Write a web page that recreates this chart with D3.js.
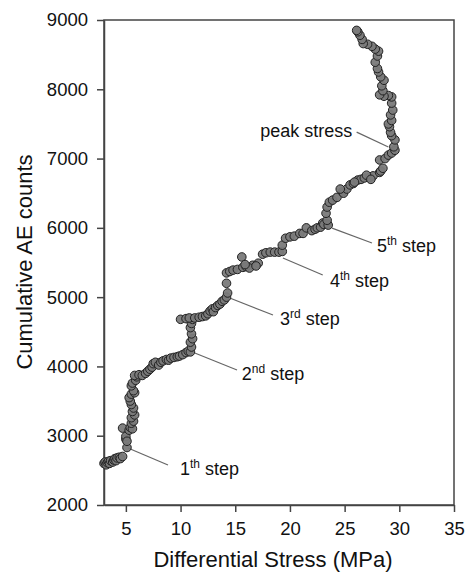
<!DOCTYPE html>
<html><head><meta charset="utf-8">
<script src="https://cdn.jsdelivr.net/npm/d3@7"></script>
<style>body{margin:0;background:#fff}svg{display:block}</style>
</head><body>
<script>
// Differential stress (MPa)
const stress = [
3.0,3.1,3.2,3.3,3.4,3.5,3.6,3.8,3.9,4.0,4.1,4.2,4.4,4.5,4.7,
5.1,4.7,5.0,5.0,5.1,5.3,5.4,5.6,5.5,5.7,5.5,5.8,5.6,5.7,5.5,5.4,5.3,5.5,5.8,5.7,5.5,5.6,5.9,6.0,5.8,6.2,6.5,
6.8,7.0,7.2,7.4,7.5,7.7,8.0,8.2,8.4,8.7,8.9,9.1,9.4,9.7,9.9,10.2,10.5,10.7,10.9,
11.0,10.9,11.1,11.0,10.9,11.0,11.1,
10.0,10.5,10.8,11.3,11.7,12.0,12.3,12.5,12.7,12.9,13.0,13.2,13.4,13.6,13.8,14.0,14.2,14.3,14.2,
14.2,14.5,14.8,15.2,15.7,16.0,16.6,16.3,17.1,15.6,17.5,17.8,18.2,18.6,19.0,19.3,15.9,16.9,
19.3,19.6,20.0,20.4,20.9,21.2,21.5,22.0,22.3,22.5,22.8,23.0,23.4,23.1,23.5,
23.4,23.3,23.4,23.6,
23.9,24.3,24.8,24.9,25.2,25.5,25.8,26.2,26.5,26.8,27.3,27.6,28.2,28.3,28.5,27.0,27.4,25.9,24.6,
28.2,28.7,29.0,29.3,29.6,29.5,29.6,29.3,29.2,29.1,29.0,29.3,29.2,29.4,29.3,29.3,29.0,28.6,28.2,
28.5,28.4,28.6,28.3,28.1,28.0,27.8,28.0,28.1,27.8,27.5,27.1,26.7,26.6,26.4,26.2,26.1
];
// Cumulative AE counts
const counts = [
2600,2620,2580,2610,2630,2600,2640,2620,2650,2670,2640,2680,2690,2670,2700,
2830,3110,2950,2990,2920,3080,3120,3100,3180,3210,3260,3300,3350,3400,3450,3500,3550,3600,3620,3650,3720,3760,3800,3850,3870,3880,3870,
3900,3930,3960,3990,4040,4060,4020,4060,4080,4100,4090,4120,4130,4140,4150,4170,4200,4220,4210,
4280,4350,4400,4470,4560,4620,4680,
4680,4690,4700,4700,4710,4720,4730,4760,4800,4830,4790,4850,4880,4900,4940,4960,5000,5060,5200,
5350,5370,5390,5400,5430,5440,5460,5420,5490,5580,5620,5640,5650,5650,5650,5660,5470,5450,
5750,5850,5870,5880,5920,5920,6000,5960,5980,6000,6010,6070,6060,6050,6040,
6110,6210,6300,6370,
6400,6440,6520,6500,6560,6620,6640,6690,6700,6720,6730,6750,6800,6820,6860,6760,6700,6660,6560,
6980,7000,7050,7080,7120,7170,7270,7330,7380,7460,7500,7550,7630,7700,7800,7890,7910,7900,7920,
7980,8050,8130,8180,8250,8300,8390,8480,8550,8580,8620,8650,8660,8720,8780,8830,8850
];
const xTicks = [5,10,15,20,25,30,35];
const yTicks = [2000,3000,4000,5000,6000,7000,8000,9000];
// annotations: label number, superscript, from point, to text
const annLabel = ["1","2","3","4","5","peak stress"];
const annSup   = ["th","nd","rd","th","th",""];
const annFromX = [5.19,11.3,14.5,19.36,23.85,29.0];
const annFromY = [2823,4193,4987,5564,5997,7166];
const annToX   = [8.85,15.16,18.45,23.0,27.5,26.1];
const annToY   = [2577,3948,4742,5319,5781,7382];
const annTextX = [9.95,15.6,19.1,23.66,27.95,25.7];
const annTextY = [2433,3804,4597,5146,5651,7310];

const W=465,H=575;
const m={l:104,r:454,t:20,b:505};
const font="'Liberation Sans', Arial, sans-serif";
const svg=d3.select("body").append("svg").attr("width",W).attr("height",H);
const x=d3.scaleLinear().domain([3,35]).range([m.l,m.r]);
const y=d3.scaleLinear().domain([2000,9000]).range([m.b,m.t]);
const axisCol="#444";

// frame
svg.append("rect").attr("x",m.l).attr("y",m.t).attr("width",m.r-m.l).attr("height",m.b-m.t)
  .attr("fill","none").attr("stroke",axisCol).attr("stroke-width",1.5);

const xa=svg.append("g").attr("transform",`translate(0,${m.b})`)
  .call(d3.axisBottom(x).tickValues(xTicks).tickSize(7).tickPadding(10).tickSizeOuter(0));
const ya=svg.append("g").attr("transform",`translate(${m.l},0)`)
  .call(d3.axisLeft(y).tickValues(yTicks).tickSize(7).tickPadding(9).tickSizeOuter(0).tickFormat(d3.format("d")));
[xa,ya].forEach(a=>{
  a.select(".domain").attr("stroke",axisCol).attr("stroke-width",1.5);
  a.selectAll(".tick line").attr("stroke",axisCol).attr("stroke-width",1.5);
  a.selectAll(".tick text").attr("fill","#111").style("font-family",font).style("font-size","18.5px");
});

// annotation lines
svg.append("g").selectAll("line").data(annLabel).join("line")
  .attr("x1",(d,i)=>x(annFromX[i])).attr("y1",(d,i)=>y(annFromY[i]))
  .attr("x2",(d,i)=>x(annToX[i])).attr("y2",(d,i)=>y(annToY[i]))
  .attr("stroke","#666").attr("stroke-width",1.2);

// points
svg.append("g").selectAll("circle").data(stress).join("circle")
  .attr("cx",d=>x(d)).attr("cy",(d,i)=>y(counts[i])).attr("r",4.3)
  .attr("fill","#7a7a7a").attr("stroke","#222").attr("stroke-width",1)
  .attr("fill-opacity",0.95);

// annotation text
const at=svg.append("g").selectAll("text").data(annLabel).join("text")
  .attr("x",(d,i)=>x(annTextX[i])).attr("y",(d,i)=>y(annTextY[i]))
  .attr("text-anchor",(d,i)=>annSup[i]?"start":"end")
  .style("font-family",font).style("font-size","18px").attr("fill","#111");
at.each(function(d,i){
  const t=d3.select(this);
  t.append("tspan").text(d);
  if(annSup[i]){
    t.append("tspan").attr("dy",-7).style("font-size","12px").text(annSup[i]);
    t.append("tspan").attr("dy",7).text(" step");
  }
});

// axis titles
svg.append("text").attr("x",273).attr("y",567).attr("text-anchor","middle")
  .style("font-family",font).style("font-size","22px").attr("fill","#111")
  .text("Differential Stress (MPa)");
svg.append("text").attr("transform",`translate(32,262) rotate(-90)`).attr("text-anchor","middle")
  .style("font-family",font).style("font-size","22px").attr("fill","#111")
  .text("Cumulative AE counts");
</script>
</body></html>
